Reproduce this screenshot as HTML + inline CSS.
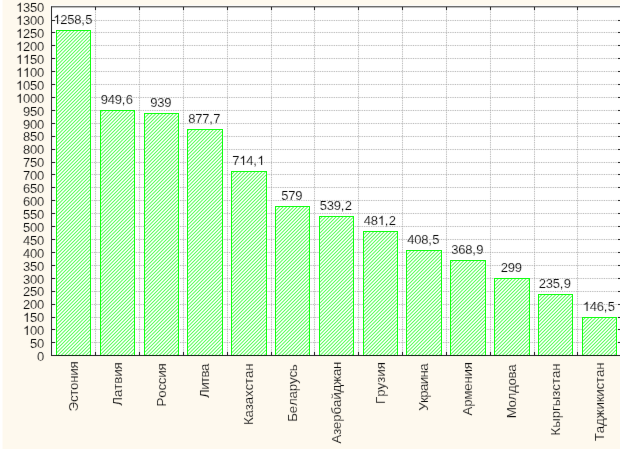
<!DOCTYPE html><html><head><meta charset="utf-8"><style>
html,body{margin:0;padding:0;}body{width:620px;height:449px;overflow:hidden;background:#FEF9EE;position:relative;}
svg{position:absolute;left:0;top:0;will-change:transform;}
text{font-kerning:none;font-feature-settings:"kern" 0;font-family:"Liberation Sans",sans-serif;font-size:13px;fill:#000;}
.c{stroke:#FEF9EE;stroke-width:0.15px;} .w{stroke:#fff;stroke-width:0.15px;}
</style></head><body>
<svg width="620" height="449" viewBox="0 0 620 449">
<defs><pattern id="h" patternUnits="userSpaceOnUse" x="0" y="0" width="7" height="7"><rect x="0" y="0" width="1" height="1" fill="#D8FFD8"/><rect x="1" y="0" width="1" height="1" fill="#F8FFF8"/><rect x="2" y="0" width="1" height="1" fill="#8FFF8F"/><rect x="3" y="0" width="1" height="1" fill="#8FFF8F"/><rect x="4" y="0" width="1" height="1" fill="#F8FFF8"/><rect x="5" y="0" width="1" height="1" fill="#D8FFD8"/><rect x="6" y="0" width="1" height="1" fill="#61FF61"/><rect x="0" y="1" width="1" height="1" fill="#F8FFF8"/><rect x="1" y="1" width="1" height="1" fill="#8FFF8F"/><rect x="2" y="1" width="1" height="1" fill="#8FFF8F"/><rect x="3" y="1" width="1" height="1" fill="#F8FFF8"/><rect x="4" y="1" width="1" height="1" fill="#D8FFD8"/><rect x="5" y="1" width="1" height="1" fill="#61FF61"/><rect x="6" y="1" width="1" height="1" fill="#D8FFD8"/><rect x="0" y="2" width="1" height="1" fill="#8FFF8F"/><rect x="1" y="2" width="1" height="1" fill="#8FFF8F"/><rect x="2" y="2" width="1" height="1" fill="#F8FFF8"/><rect x="3" y="2" width="1" height="1" fill="#D8FFD8"/><rect x="4" y="2" width="1" height="1" fill="#61FF61"/><rect x="5" y="2" width="1" height="1" fill="#D8FFD8"/><rect x="6" y="2" width="1" height="1" fill="#F8FFF8"/><rect x="0" y="3" width="1" height="1" fill="#8FFF8F"/><rect x="1" y="3" width="1" height="1" fill="#F8FFF8"/><rect x="2" y="3" width="1" height="1" fill="#D8FFD8"/><rect x="3" y="3" width="1" height="1" fill="#61FF61"/><rect x="4" y="3" width="1" height="1" fill="#D8FFD8"/><rect x="5" y="3" width="1" height="1" fill="#F8FFF8"/><rect x="6" y="3" width="1" height="1" fill="#8FFF8F"/><rect x="0" y="4" width="1" height="1" fill="#F8FFF8"/><rect x="1" y="4" width="1" height="1" fill="#D8FFD8"/><rect x="2" y="4" width="1" height="1" fill="#61FF61"/><rect x="3" y="4" width="1" height="1" fill="#D8FFD8"/><rect x="4" y="4" width="1" height="1" fill="#F8FFF8"/><rect x="5" y="4" width="1" height="1" fill="#8FFF8F"/><rect x="6" y="4" width="1" height="1" fill="#8FFF8F"/><rect x="0" y="5" width="1" height="1" fill="#D8FFD8"/><rect x="1" y="5" width="1" height="1" fill="#61FF61"/><rect x="2" y="5" width="1" height="1" fill="#D8FFD8"/><rect x="3" y="5" width="1" height="1" fill="#F8FFF8"/><rect x="4" y="5" width="1" height="1" fill="#8FFF8F"/><rect x="5" y="5" width="1" height="1" fill="#8FFF8F"/><rect x="6" y="5" width="1" height="1" fill="#F8FFF8"/><rect x="0" y="6" width="1" height="1" fill="#61FF61"/><rect x="1" y="6" width="1" height="1" fill="#D8FFD8"/><rect x="2" y="6" width="1" height="1" fill="#F8FFF8"/><rect x="3" y="6" width="1" height="1" fill="#8FFF8F"/><rect x="4" y="6" width="1" height="1" fill="#8FFF8F"/><rect x="5" y="6" width="1" height="1" fill="#F8FFF8"/><rect x="6" y="6" width="1" height="1" fill="#D8FFD8"/></pattern></defs>
<defs><filter id="bl" color-interpolation-filters="sRGB" filterUnits="userSpaceOnUse" x="0" y="0" width="620" height="449"><feConvolveMatrix order="3" kernelMatrix="0 1 0 1 20 1 0 1 0" divisor="24" edgeMode="duplicate"/></filter></defs>
<g filter="url(#bl)">
<rect x="0" y="0" width="620" height="449" fill="#FEF9EE"/>
<rect x="0" y="0" width="2" height="449" fill="#fff"/><rect x="2" y="0" width="1" height="449" fill="#fff" fill-opacity="0.5"/>
<rect x="50" y="5" width="571" height="350" fill="#fff"/>
<path d="M52,342.5H620M52,329.5H620M52,317.5H620M52,304.5H620M52,291.5H620M52,278.5H620M52,265.5H620M52,252.5H620M52,239.5H620M52,226.5H620M52,213.5H620M52,200.5H620M52,187.5H620M52,174.5H620M52,162.5H620M52,149.5H620M52,136.5H620M52,123.5H620M52,110.5H620M52,97.5H620M52,84.5H620M52,71.5H620M52,58.5H620M52,45.5H620M52,32.5H620M52,20.5H620M95.5,7V355M139.5,7V355M183.5,7V355M227.5,7V355M271.5,7V355M314.5,7V355M358.5,7V355M402.5,7V355M446.5,7V355M490.5,7V355M534.5,7V355M577.5,7V355" stroke="#A0A0A0" stroke-opacity="0.85" stroke-width="1" stroke-dasharray="0.8764,0.8764" fill="none"/>
</g>
<rect x="56.5" y="30.5" width="34" height="325" fill="url(#h)" stroke="#14FF14" stroke-width="1"/>
<rect x="100.5" y="110.5" width="34" height="245" fill="url(#h)" stroke="#14FF14" stroke-width="1"/>
<rect x="144.5" y="113.5" width="34" height="242" fill="url(#h)" stroke="#14FF14" stroke-width="1"/>
<rect x="187.5" y="129.5" width="35" height="226" fill="url(#h)" stroke="#14FF14" stroke-width="1"/>
<rect x="231.5" y="171.5" width="35" height="184" fill="url(#h)" stroke="#14FF14" stroke-width="1"/>
<rect x="275.5" y="206.5" width="34" height="149" fill="url(#h)" stroke="#14FF14" stroke-width="1"/>
<rect x="319.5" y="216.5" width="34" height="139" fill="url(#h)" stroke="#14FF14" stroke-width="1"/>
<rect x="363.5" y="231.5" width="34" height="124" fill="url(#h)" stroke="#14FF14" stroke-width="1"/>
<rect x="406.5" y="250.5" width="35" height="105" fill="url(#h)" stroke="#14FF14" stroke-width="1"/>
<rect x="450.5" y="260.5" width="35" height="95" fill="url(#h)" stroke="#14FF14" stroke-width="1"/>
<rect x="494.5" y="278.5" width="35" height="77" fill="url(#h)" stroke="#14FF14" stroke-width="1"/>
<rect x="538.5" y="294.5" width="34" height="61" fill="url(#h)" stroke="#14FF14" stroke-width="1"/>
<rect x="582.5" y="317.5" width="34" height="38" fill="url(#h)" stroke="#14FF14" stroke-width="1"/>
<g filter="url(#bl)">
<path d="M51.5,6.5V355.5 M51,355.5H621 M51,6.8H621" fill="none" stroke="#222222" stroke-width="1"/>
<path d="M52,342.5h3M621,342.5h-3M52,329.5h3M621,329.5h-3M52,317.5h3M621,317.5h-3M52,304.5h3M621,304.5h-3M52,291.5h3M621,291.5h-3M52,278.5h3M621,278.5h-3M52,265.5h3M621,265.5h-3M52,252.5h3M621,252.5h-3M52,239.5h3M621,239.5h-3M52,226.5h3M621,226.5h-3M52,213.5h3M621,213.5h-3M52,200.5h3M621,200.5h-3M52,187.5h3M621,187.5h-3M52,174.5h3M621,174.5h-3M52,162.5h3M621,162.5h-3M52,149.5h3M621,149.5h-3M52,136.5h3M621,136.5h-3M52,123.5h3M621,123.5h-3M52,110.5h3M621,110.5h-3M52,97.5h3M621,97.5h-3M52,84.5h3M621,84.5h-3M52,71.5h3M621,71.5h-3M52,58.5h3M621,58.5h-3M52,45.5h3M621,45.5h-3M52,32.5h3M621,32.5h-3M52,20.5h3M621,20.5h-3M95.5,355v-3M95.5,7v3M139.5,355v-3M139.5,7v3M183.5,355v-3M183.5,7v3M227.5,355v-3M227.5,7v3M271.5,355v-3M271.5,7v3M314.5,355v-3M314.5,7v3M358.5,355v-3M358.5,7v3M402.5,355v-3M402.5,7v3M446.5,355v-3M446.5,7v3M490.5,355v-3M490.5,7v3M534.5,355v-3M534.5,7v3M577.5,355v-3M577.5,7v3" stroke="#222222" stroke-width="1" fill="none"/>
<text class="c" x="37" y="361">0</text>
<text class="c" x="30 37" y="348">50</text>
<text class="c" x="23 30 37" y="335"> 00</text>
<path fill="#000" stroke="#FEF9EE" d="M763,0L583,0L583,1147Q518,1085 413,1023Q307,961 224,930L224,1104Q374,1175 487,1276Q600,1377 647,1472L763,1472Z" transform="translate(23,335) scale(0.006348,-0.006348)" stroke-width="23.6308"/>
<text class="c" x="23 30 37" y="322"> 50</text>
<path fill="#000" stroke="#FEF9EE" d="M763,0L583,0L583,1147Q518,1085 413,1023Q307,961 224,930L224,1104Q374,1175 487,1276Q600,1377 647,1472L763,1472Z" transform="translate(23,322) scale(0.006348,-0.006348)" stroke-width="23.6308"/>
<text class="c" x="23 30 37" y="309">200</text>
<text class="c" x="23 30 37" y="296">250</text>
<text class="c" x="23 30 37" y="284">300</text>
<text class="c" x="23 30 37" y="271">350</text>
<text class="c" x="23 30 37" y="258">400</text>
<text class="c" x="23 30 37" y="245">450</text>
<text class="c" x="23 30 37" y="232">500</text>
<text class="c" x="23 30 37" y="219">550</text>
<text class="c" x="23 30 37" y="206">600</text>
<text class="c" x="23 30 37" y="193">650</text>
<text class="c" x="23 30 37" y="180">700</text>
<text class="c" x="23 30 37" y="167">750</text>
<text class="c" x="23 30 37" y="154">800</text>
<text class="c" x="23 30 37" y="141">850</text>
<text class="c" x="23 30 37" y="129">900</text>
<text class="c" x="23 30 37" y="116">950</text>
<text class="c" x="16 23 30 37" y="103"> 000</text>
<path fill="#000" stroke="#FEF9EE" d="M763,0L583,0L583,1147Q518,1085 413,1023Q307,961 224,930L224,1104Q374,1175 487,1276Q600,1377 647,1472L763,1472Z" transform="translate(16,103) scale(0.006348,-0.006348)" stroke-width="23.6308"/>
<text class="c" x="16 23 30 37" y="90"> 050</text>
<path fill="#000" stroke="#FEF9EE" d="M763,0L583,0L583,1147Q518,1085 413,1023Q307,961 224,930L224,1104Q374,1175 487,1276Q600,1377 647,1472L763,1472Z" transform="translate(16,90) scale(0.006348,-0.006348)" stroke-width="23.6308"/>
<text class="c" x="16 23 30 37" y="77">  00</text>
<path fill="#000" stroke="#FEF9EE" d="M763,0L583,0L583,1147Q518,1085 413,1023Q307,961 224,930L224,1104Q374,1175 487,1276Q600,1377 647,1472L763,1472Z" transform="translate(16,77) scale(0.006348,-0.006348)" stroke-width="23.6308"/>
<path fill="#000" stroke="#FEF9EE" d="M763,0L583,0L583,1147Q518,1085 413,1023Q307,961 224,930L224,1104Q374,1175 487,1276Q600,1377 647,1472L763,1472Z" transform="translate(23,77) scale(0.006348,-0.006348)" stroke-width="23.6308"/>
<text class="c" x="16 23 30 37" y="64">  50</text>
<path fill="#000" stroke="#FEF9EE" d="M763,0L583,0L583,1147Q518,1085 413,1023Q307,961 224,930L224,1104Q374,1175 487,1276Q600,1377 647,1472L763,1472Z" transform="translate(16,64) scale(0.006348,-0.006348)" stroke-width="23.6308"/>
<path fill="#000" stroke="#FEF9EE" d="M763,0L583,0L583,1147Q518,1085 413,1023Q307,961 224,930L224,1104Q374,1175 487,1276Q600,1377 647,1472L763,1472Z" transform="translate(23,64) scale(0.006348,-0.006348)" stroke-width="23.6308"/>
<text class="c" x="16 23 30 37" y="51"> 200</text>
<path fill="#000" stroke="#FEF9EE" d="M763,0L583,0L583,1147Q518,1085 413,1023Q307,961 224,930L224,1104Q374,1175 487,1276Q600,1377 647,1472L763,1472Z" transform="translate(16,51) scale(0.006348,-0.006348)" stroke-width="23.6308"/>
<text class="c" x="16 23 30 37" y="38"> 250</text>
<path fill="#000" stroke="#FEF9EE" d="M763,0L583,0L583,1147Q518,1085 413,1023Q307,961 224,930L224,1104Q374,1175 487,1276Q600,1377 647,1472L763,1472Z" transform="translate(16,38) scale(0.006348,-0.006348)" stroke-width="23.6308"/>
<text class="c" x="16 23 30 37" y="25"> 300</text>
<path fill="#000" stroke="#FEF9EE" d="M763,0L583,0L583,1147Q518,1085 413,1023Q307,961 224,930L224,1104Q374,1175 487,1276Q600,1377 647,1472L763,1472Z" transform="translate(16,25) scale(0.006348,-0.006348)" stroke-width="23.6308"/>
<text class="c" x="16 23 30 37" y="12"> 350</text>
<path fill="#000" stroke="#FEF9EE" d="M763,0L583,0L583,1147Q518,1085 413,1023Q307,961 224,930L224,1104Q374,1175 487,1276Q600,1377 647,1472L763,1472Z" transform="translate(16,12) scale(0.006348,-0.006348)" stroke-width="23.6308"/>
<text class="w" x="53.3 60.3 67.3 74.3 81.3 85.3" y="24"> 258,5</text>
<path fill="#000" stroke="#fff" d="M763,0L583,0L583,1147Q518,1085 413,1023Q307,961 224,930L224,1104Q374,1175 487,1276Q600,1377 647,1472L763,1472Z" transform="translate(53.3,24) scale(0.006348,-0.006348)" stroke-width="23.6308"/>
<text class="w" x="100.8 107.8 114.8 121.8 125.8" y="104">949,6</text>
<text class="w" x="150.3 157.3 164.3" y="107">939</text>
<text class="w" x="188.3 195.3 202.3 209.3 213.3" y="123">877,7</text>
<text class="w" x="232.3 239.3 246.3 253.3 257.3" y="165">7 4, </text>
<path fill="#000" stroke="#fff" d="M763,0L583,0L583,1147Q518,1085 413,1023Q307,961 224,930L224,1104Q374,1175 487,1276Q600,1377 647,1472L763,1472Z" transform="translate(239.3,165) scale(0.006348,-0.006348)" stroke-width="23.6308"/>
<path fill="#000" stroke="#fff" d="M763,0L583,0L583,1147Q518,1085 413,1023Q307,961 224,930L224,1104Q374,1175 487,1276Q600,1377 647,1472L763,1472Z" transform="translate(257.3,165) scale(0.006348,-0.006348)" stroke-width="23.6308"/>
<text class="w" x="281.3 288.3 295.3" y="200">579</text>
<text class="w" x="319.8 326.8 333.8 340.8 344.8" y="210">539,2</text>
<text class="w" x="363.8 370.8 377.8 384.8 388.8" y="225">48 ,2</text>
<path fill="#000" stroke="#fff" d="M763,0L583,0L583,1147Q518,1085 413,1023Q307,961 224,930L224,1104Q374,1175 487,1276Q600,1377 647,1472L763,1472Z" transform="translate(377.8,225) scale(0.006348,-0.006348)" stroke-width="23.6308"/>
<text class="w" x="407.3 414.3 421.3 428.3 432.3" y="244">408,5</text>
<text class="w" x="451.3 458.3 465.3 472.3 476.3" y="254">368,9</text>
<text class="w" x="500.8 507.8 514.8" y="272">299</text>
<text class="w" x="538.8 545.8 552.8 559.8 563.8" y="288">235,9</text>
<text class="w" x="582.8 589.8 596.8 603.8 607.8" y="311"> 46,5</text>
<path fill="#000" stroke="#fff" d="M763,0L583,0L583,1147Q518,1085 413,1023Q307,961 224,930L224,1104Q374,1175 487,1276Q600,1377 647,1472L763,1472Z" transform="translate(582.8,311) scale(0.006348,-0.006348)" stroke-width="23.6308"/>
<text class="c" style="font-size:13.33px" transform="translate(77.50,361.30) rotate(-90)" text-anchor="end" textLength="50.12" lengthAdjust="spacing">Эстония</text>
<text class="c" style="font-size:13.33px" transform="translate(121.50,362.30) rotate(-90)" text-anchor="end" textLength="43.44" lengthAdjust="spacing">Латвия</text>
<text class="c" style="font-size:13.33px" transform="translate(165.50,363.30) rotate(-90)" text-anchor="end" textLength="43.1" lengthAdjust="spacing">Россия</text>
<text class="c" style="font-size:13.33px" transform="translate(209.00,363.70) rotate(-90)" text-anchor="end" textLength="34.19" lengthAdjust="spacing">Литва</text>
<text class="c" style="font-size:13.33px" transform="translate(253.00,363.30) rotate(-90)" text-anchor="end" textLength="61.76" lengthAdjust="spacing">Казахстан</text>
<text class="c" style="font-size:13.33px" transform="translate(296.50,364.20) rotate(-90)" text-anchor="end" textLength="57.49" lengthAdjust="spacing">Беларусь</text>
<text class="c" style="font-size:13.33px" transform="translate(340.50,361.50) rotate(-90)" text-anchor="end" textLength="82.03" lengthAdjust="spacing">Азербайджан</text>
<text class="c" style="font-size:13.33px" transform="translate(384.50,362.00) rotate(-90)" text-anchor="end" textLength="42.03" lengthAdjust="spacing">Грузия</text>
<text class="c" style="font-size:13.33px" transform="translate(428.00,363.40) rotate(-90)" text-anchor="end" textLength="47.48" lengthAdjust="spacing">Украина</text>
<text class="c" style="font-size:13.33px" transform="translate(472.00,362.00) rotate(-90)" text-anchor="end" textLength="53.46" lengthAdjust="spacing">Армения</text>
<text class="c" style="font-size:13.33px" transform="translate(516.00,364.30) rotate(-90)" text-anchor="end" textLength="54.01" lengthAdjust="spacing">Молдова</text>
<text class="c" style="font-size:13.33px" transform="translate(559.50,363.30) rotate(-90)" text-anchor="end" textLength="72.26" lengthAdjust="spacing">Кыргызстан</text>
<text class="c" style="font-size:13.33px" transform="translate(603.50,362.40) rotate(-90)" text-anchor="end" textLength="78.73" lengthAdjust="spacing">Таджикистан</text>
</g>
</svg></body></html>
